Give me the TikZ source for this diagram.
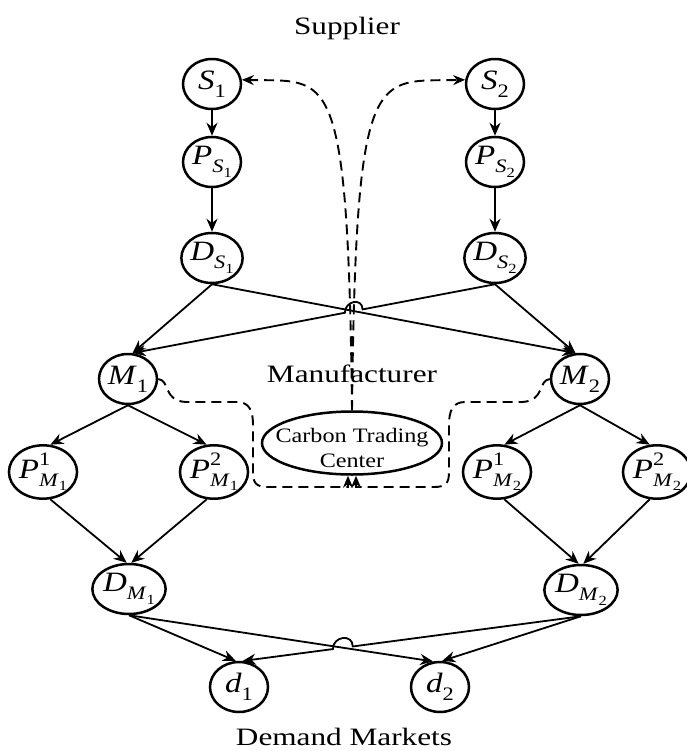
\documentclass[tikz,border=0pt]{standalone}
\usepackage{fontspec}
\usepackage{graphicx}
\setmainfont{Liberation Serif}
\usetikzlibrary{shapes.geometric,arrows.meta,calc}

% horizontally widened lettering
\newcommand\wideA[1]{\scalebox{1.18}[1]{#1}}
\newcommand\wideB[1]{\scalebox{1.25}[1]{#1}}
% index helpers for the node labels
\newcommand\dnA[1]{\raisebox{-0.28em}{\fontsize{19}{19}\selectfont #1}}
\newcommand\dnB[1]{\raisebox{-0.25em}{\fontsize{14}{14}\selectfont #1}}
\newcommand\upA[1]{\rlap{\raisebox{0.45em}{\fontsize{19}{19}\selectfont #1}}}

\tikzset{
  stage/.style={ellipse, draw, line width=2.5pt, minimum width=58pt, minimum height=50pt,
                inner sep=0pt, font=\fontsize{28}{30}\selectfont},
  flow/.style={line width=1.8pt, -{Stealth[length=13pt,width=11pt]}},
  carbon/.style={line width=1.9pt, dash pattern=on 10pt off 6pt, -{Stealth[length=12pt,width=10pt]}},
  tier/.style={font=\fontsize{25}{28}\selectfont, inner sep=0pt, anchor=base},
}

\begin{document}
\begin{tikzpicture}[x=1pt,y=-1pt]
\useasboundingbox (0,0) rectangle (686,751);

% tier titles
\node[tier] (tsup) at (347,35) {\wideB{Supplier}};
\node[tier] (tman) at (352,382) {\wideB{Manufacturer}};
\node[tier] (tdem) at (344,745) {\wideB{Demand Markets}};

% suppliers
\node[stage] (S1) at (212,84) {\wideA{\textit{S}\dnA{1}}};
\node[stage] (S2) at (495,84) {\wideA{\textit{S}\dnA{2}}};
\node[stage] (PS1) at (212,162) {\wideA{\textit{P}\dnA{\textit{S}\dnB{1}}}};
\node[stage] (PS2) at (495,162) {\wideA{\textit{P}\dnA{\textit{S}\dnB{2}}}};
\node[stage] (DS1) at (212,258) {\wideA{\textit{D}\dnA{\textit{S}\dnB{1}}}};
\node[stage] (DS2) at (495,258) {\wideA{\textit{D}\dnA{\textit{S}\dnB{2}}}};

% manufacturers
\node[stage] (M1) at (128,379) {\wideA{\textit{M}\dnA{1}}};
\node[stage] (M2) at (580,379) {\wideA{\textit{M}\dnA{2}}};
\node[stage] (PM11) at (43,472) {\wideA{\textit{P}\upA{1}\dnA{\textit{M}\dnB{1}}}};
\node[stage] (PM12) at (214,472) {\wideA{\textit{P}\upA{2}\dnA{\textit{M}\dnB{1}}}};
\node[stage] (PM21) at (497,472) {\wideA{\textit{P}\upA{1}\dnA{\textit{M}\dnB{2}}}};
\node[stage] (PM22) at (657,472) {\wideA{\textit{P}\upA{2}\dnA{\textit{M}\dnB{2}}}};
\node[stage] (DM1) at (129,589) {\wideA{\textit{D}\dnA{\textit{M}\dnB{1}}}};
\node[stage] (DM2) at (581,590) {\wideA{\textit{D}\dnA{\textit{M}\dnB{2}}}};

% demand markets
\node[stage] (d1) at (239,687) {\wideA{\textit{d}\dnA{1}}};
\node[stage] (d2) at (440,687) {\wideA{\textit{d}\dnA{2}}};

% carbon trading center
\node[ellipse, draw, line width=2.5pt, minimum width=180pt, minimum height=63pt,
      inner xsep=-14pt, inner ysep=-6pt, text height=27pt, text depth=29pt,
      font=\fontsize{20.5}{25}\selectfont] (CTC) at (352,443)
  {\begin{tabular}[t]{@{}c@{}}\wideA{Carbon Trading}\\\wideA{Center}\end{tabular}};

% supplier chains
\draw[flow] (S1) -- (PS1);
\draw[flow] (PS1) -- (DS1);
\draw[flow] (S2) -- (PS2);
\draw[flow] (PS2) -- (DS2);

% suppliers to manufacturers, one line hopping over the other
\coordinate (cA) at (intersection of DS1.south--M2.100 and DS2.south--M1.80);
\coordinate (hA1) at ($(cA)!9pt!(DS2.south)$);
\coordinate (hA2) at ($(cA)!9pt!(M1.80)$);
\draw[flow] (DS1.south) -- (M1.80);
\draw[flow] (DS1.south) -- (M2.100);
\draw[flow] (DS2.south) -- (M2.100);
\draw[flow] (DS2.south) -- (hA1) .. controls ($(hA1)+(0,-12)$) and ($(hA2)+(0,-12)$) .. (hA2) -- (M1.80);

% manufacturer plants
\draw[flow] (M1.south) -- (PM11.75);
\draw[flow] (M1.south) -- (PM12.105);
\draw[flow] (M2.south) -- (PM21.75);
\draw[flow] (M2.south) -- (PM22.105);
\draw[flow] (PM11.-75) -- (DM1.95);
\draw[flow] (PM12.-105) -- (DM1.85);
\draw[flow] (PM21.-75) -- (DM2.95);
\draw[flow] (PM22.-105) -- (DM2.85);

% manufacturers to demand markets, one line hopping over the other
\coordinate (cB) at (intersection of DM1.south--d2.105 and DM2.south--d1.82);
\coordinate (hB1) at ($(cB)!10pt!(DM2.south)$);
\coordinate (hB2) at ($(cB)!10pt!(d1.82)$);
\draw[flow] (DM1.south) -- (d1.97);
\draw[flow] (DM1.south) -- (d2.105);
\draw[flow] (DM2.south) -- (d2.85);
\draw[flow] (DM2.south) -- (hB1) .. controls ($(hB1)+(0,-13)$) and ($(hB2)+(0,-13)$) .. (hB2) -- (d1.82);

% carbon trading links
\coordinate (inL) at ($(CTC.south)+(-4,0)$);
\coordinate (inR) at ($(CTC.south)+(4,0)$);
\draw[carbon] (CTC.north) .. controls (348,60) and (330,82) .. (S1.8);
\draw[carbon] (CTC.north) .. controls (356,60) and (374,82) .. (S2.172);
\draw[carbon] (M1.east) .. controls (170,380) and (163,401) .. (186,402) -- (237,402)
  .. controls (250,402) and (253,412) .. (253,425) -- (253,472)
  .. controls (253,483) and (256,487) .. (268,487) -- (348,487) -- (inL);
\draw[carbon] (M2.west) .. controls (538,380) and (545,401) .. (522,402) -- (465,402)
  .. controls (452,402) and (449,412) .. (449,425) -- (449,472)
  .. controls (449,483) and (446,487) .. (434,487) -- (356,487) -- (inR);
\end{tikzpicture}
\end{document}
